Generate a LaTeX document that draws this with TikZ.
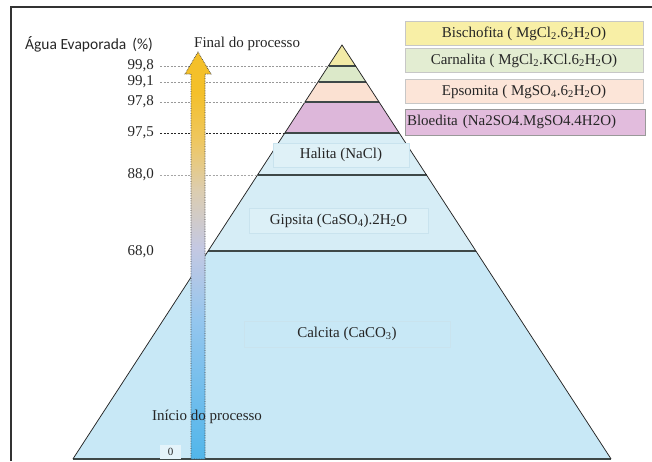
\documentclass[tikz,border=0pt]{standalone}
\usepackage{fontspec}
\setmainfont{Liberation Serif}
\newfontfamily\calibfont{Carlito}
\definecolor{cyel}{HTML}{F2EAA6}
\definecolor{cgrn}{HTML}{DCE9C9}
\definecolor{cpch}{HTML}{FBE1D2}
\definecolor{cpur}{HTML}{DDB7DA}
\definecolor{chal}{HTML}{D9EEF6}
\definecolor{cgip}{HTML}{D6EDF6}
\definecolor{ccal}{HTML}{C8E8F6}
\definecolor{lyel}{HTML}{F8EFA6}
\definecolor{lgrn}{HTML}{E3EDD2}
\definecolor{lpch}{HTML}{FCE5D8}
\definecolor{lpur}{HTML}{E2BCDD}
\definecolor{agold}{HTML}{F4C02A}
\definecolor{agold2}{HTML}{EEC762}
\definecolor{atan}{HTML}{DCCDB0}
\definecolor{alav}{HTML}{C4C8E2}
\definecolor{ablu1}{HTML}{94C6EE}
\definecolor{ablu2}{HTML}{52B6EA}
\definecolor{edge}{HTML}{3E4848}
\pgfdeclareverticalshading{arrowsh}{100bp}{color(0bp)=(ablu2); color(25bp)=(ablu2); color(42bp)=(ablu1); color(51bp)=(alav); color(58bp)=(atan); color(64bp)=(agold2); color(70bp)=(agold); color(100bp)=(agold)}
\begin{document}
\begin{tikzpicture}[x=1pt,y=-1pt,
  txt/.style={font=\fontsize{15}{17}\selectfont, text=black!85, inner sep=0pt},
  num/.style={txt, anchor=east},
  legbox/.style={txt, fill=#1, draw=black!22, line width=0.6pt, minimum width=238pt, minimum height=24pt},
  inbox/.style={txt, fill=#1, draw=gray!45!cyan!30!white, line width=0.6pt, minimum height=24pt},
  hline/.style={line width=1.3pt, draw=edge},
  dline/.style={dash pattern=on 2pt off 1.5pt, line width=0.6pt, draw=gray!80, shorten <=6pt},
]
\useasboundingbox (0,0) rectangle (652,461);
% frame
\draw[line width=2pt, draw=black!80] (11,461) -- (11,7) -- (652,7);

% pyramid coordinates
\coordinate (A) at (342,45);
\coordinate (l1) at (328.35,66);  \coordinate (r1) at (355.65,66);
\coordinate (l2) at (317.95,82);  \coordinate (r2) at (366.05,82);
\coordinate (l3) at (304.95,102); \coordinate (r3) at (379.05,102);
\coordinate (l4) at (284.8,133);  \coordinate (r4) at (399.2,133);
\coordinate (l5) at (257.5,175);  \coordinate (r5) at (426.5,175);
\coordinate (l6) at (208.1,251);  \coordinate (r6) at (475.9,251);
\coordinate (l7) at (72.9,459);   \coordinate (r7) at (611.1,459);

% layer fills
\fill[cyel] (A) -- (r1) -- (l1) -- cycle;
\fill[cgrn] (l1) -- (r1) -- (r2) -- (l2) -- cycle;
\fill[cpch] (l2) -- (r2) -- (r3) -- (l3) -- cycle;
\fill[cpur] (l3) -- (r3) -- (r4) -- (l4) -- cycle;
\fill[chal] (l4) -- (r4) -- (r5) -- (l5) -- cycle;
\fill[cgip] (l5) -- (r5) -- (r6) -- (l6) -- cycle;
\fill[ccal] (l6) -- (r6) -- (r7) -- (l7) -- cycle;

% layer boundaries
\draw[hline, line width=1.1pt] (l1) -- (r1);
\draw[hline, line width=1.1pt] (l2) -- (r2);
\draw[hline, line width=1.1pt] (l3) -- (r3);
\draw[hline, line width=1.1pt] (l4) -- (r4);
\draw[hline] (l5) -- (r5);
\draw[hline, line width=1.5pt] (l6) -- (r6);
\draw[hline, line width=1.4pt] (l7) -- (r7);
\draw[line width=0.75pt, draw=black!85] (l7) -- (A) -- (r7);

% axis labels
\node[txt, anchor=west, font=\calibfont\fontsize{15.5}{17}\selectfont] (ttl) at (25,44) {Água Evaporada\, (\%)};
\node[txt, anchor=west] (fin) at (194,44) {Final do processo};

% numbers and dashed lines
\node[num] (n1) at (154,66) {99,8};
\node[num] (n2) at (154,82) {99,1};
\node[num] (n3) at (154,102) {97,8};
\node[num] (n4) at (154,133) {97,5};
\node[num] (n5) at (154,175) {88,0};
\node[num] (n6) at (154,252) {68,0};
\draw[dline] (n1.east) -- (l1);
\draw[dline] (n2.east) -- (l2);
\draw[dline] (n3.east) -- (l3);
\draw[dline, draw=black!85, line width=0.7pt] (n4.east) -- (l4);
\draw[dline, draw=gray!70] (n5.east) -- (l5);

% mineral boxes inside pyramid
\node[inbox=chal!85!white, minimum width=136pt] (hal) at (341,155) {Halita (NaCl)};
\node[inbox=cgip!85!white, minimum width=179pt, minimum height=25pt] (gip) at (338.5,220.5) {Gipsita (CaSO\textsubscript{4}).2H\textsubscript{2}O};
\node[inbox=ccal, minimum width=206pt, minimum height=26pt] (cal) at (347,334) {Calcita (CaCO\textsubscript{3})};

% legend boxes
\node[legbox=lyel] (bis) at (524,33.5) {Bischofita ( MgCl\textsubscript{2}.6\textsubscript{2}H\textsubscript{2}O)};
\node[legbox=lgrn] (car) at (524,60.5) {Carnalita ( MgCl\textsubscript{2}.KCl.6\textsubscript{2}H\textsubscript{2}O)};
\node[legbox=lpch] (eps) at (524,91.7) {Epsomita ( MgSO\textsubscript{4}.6\textsubscript{2}H\textsubscript{2}O)};
\node[legbox=lpur, draw=black!40, minimum width=240pt, minimum height=26pt, text width=236pt, align=left, inner xsep=2pt] (blo) at (525,122) {Bloedita (Na2SO4.MgSO4.4H2O)};

% process arrow
\shadedraw[shading=arrowsh, draw=black!75, densely dotted, line width=0.7pt]
  (191,459) -- (191,74) -- (185,74) -- (198,52) -- (211,74) -- (205,74) -- (205,459) -- cycle;

% start labels
\node[txt] (ini) at (207,417) {Início do processo};
\node[txt, font=\fontsize{11}{12}\selectfont, fill=ccal!50!white, minimum width=21pt, minimum height=14pt] (zero) at (170.5,451.5) {0};
\end{tikzpicture}
\end{document}
